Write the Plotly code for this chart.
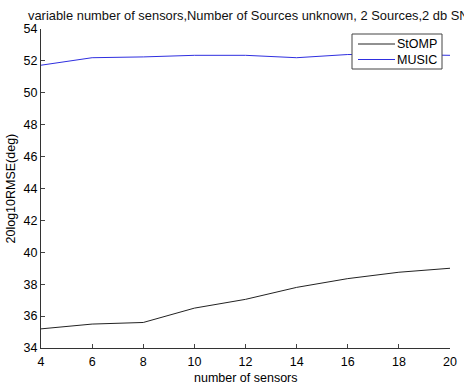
import plotly.graph_objects as go

sensors = [4, 6, 8, 10, 12, 14, 16, 18, 20]
stomp = [35.2, 35.5, 35.6, 36.5, 37.05, 37.8, 38.35, 38.75, 39.0]
music = [51.73, 52.2, 52.25, 52.35, 52.35, 52.2, 52.4, 52.4, 52.35]
series_names = ["StOMP", "MUSIC"]
series_colors = ["#222222", "#2f2fe0"]
x_ticks = [4, 6, 8, 10, 12, 14, 16, 18, 20]
y_ticks = [34, 36, 38, 40, 42, 44, 46, 48, 50, 52, 54]
title_text = "variable number of sensors,Number of Sources unknown, 2 Sources,2 db SNR"
x_title = "number of sensors"
y_title = "20log10RMSE(deg)"

font = "Liberation Sans, Arial, sans-serif"
W, H = 464, 392
L, T = 41, 29
R, B = W - 450, H - 348
pw, ph = W - L - R, H - T - B

def px2paper(px, py):
    return (px - L) / pw, (H - B - py) / ph

fig = go.Figure()
for name, ys, col in zip(series_names, [stomp, music], series_colors):
    fig.add_trace(go.Scatter(x=sensors, y=ys, mode="lines", name=name,
                             line=dict(color=col, width=1), showlegend=False))

# manual legend (MATLAB style)
x0, y0 = px2paper(352, 34)
x1, y1 = px2paper(442, 69)
fig.add_shape(type="rect", xref="paper", yref="paper", x0=x0, x1=x1, y0=y1, y1=y0,
              line=dict(color="#444", width=1), fillcolor="white", layer="above")
for i, (name, col) in enumerate(zip(series_names, series_colors)):
    py = 44 + 15.5 * i
    lx0, ly = px2paper(358, py)
    lx1, _ = px2paper(395, py)
    fig.add_shape(type="line", xref="paper", yref="paper", x0=lx0, x1=lx1, y0=ly, y1=ly,
                  line=dict(color=col, width=1), layer="above")
    tx, _ = px2paper(439, py)
    fig.add_annotation(xref="paper", yref="paper", x=tx, y=ly, text=name,
                       showarrow=False, xanchor="right", yanchor="middle",
                       font=dict(size=12.5, family=font, color="black"))

# axis titles
ax, ay = px2paper(245.5, 378)
fig.add_annotation(xref="paper", yref="paper", x=ax, y=ay, text=x_title, showarrow=False,
                   xanchor="center", yanchor="middle", font=dict(size=12.5, family=font))
bx, by = px2paper(10, 188.5)
fig.add_annotation(xref="paper", yref="paper", x=bx, y=by, text=y_title, showarrow=False,
                   textangle=-90, xanchor="center", yanchor="middle",
                   font=dict(size=12.5, family=font))

fig.update_layout(
    width=W, height=H,
    margin=dict(l=L, r=R, t=T, b=B, autoexpand=False),
    paper_bgcolor="white", plot_bgcolor="white",
    font=dict(family=font, size=12, color="black"),
    title=dict(text=title_text,
               x=28 / W, xanchor="left", y=1 - 15 / H, yanchor="middle",
               font=dict(size=12.9, family=font, color="#111")),
    showlegend=False,
    xaxis=dict(range=[4, 20], tickvals=x_ticks, ticks="inside", ticklen=4,
               showline=True, linecolor="#333", linewidth=1, showgrid=False,
               zeroline=False, mirror=False, automargin=False, ticklabelstandoff=2,
               tickfont=dict(size=12.5)),
    yaxis=dict(range=[34, 54], tickvals=y_ticks, ticks="inside", ticklen=4,
               showline=True, linecolor="#333", linewidth=1, showgrid=False,
               zeroline=False, mirror=False, automargin=False,
               tickfont=dict(size=12.5)),
)

fig.write_html("out.html", config={"displayModeBar": False},
               post_script="document.body.style.margin='0';document.body.style.overflow='hidden';")
